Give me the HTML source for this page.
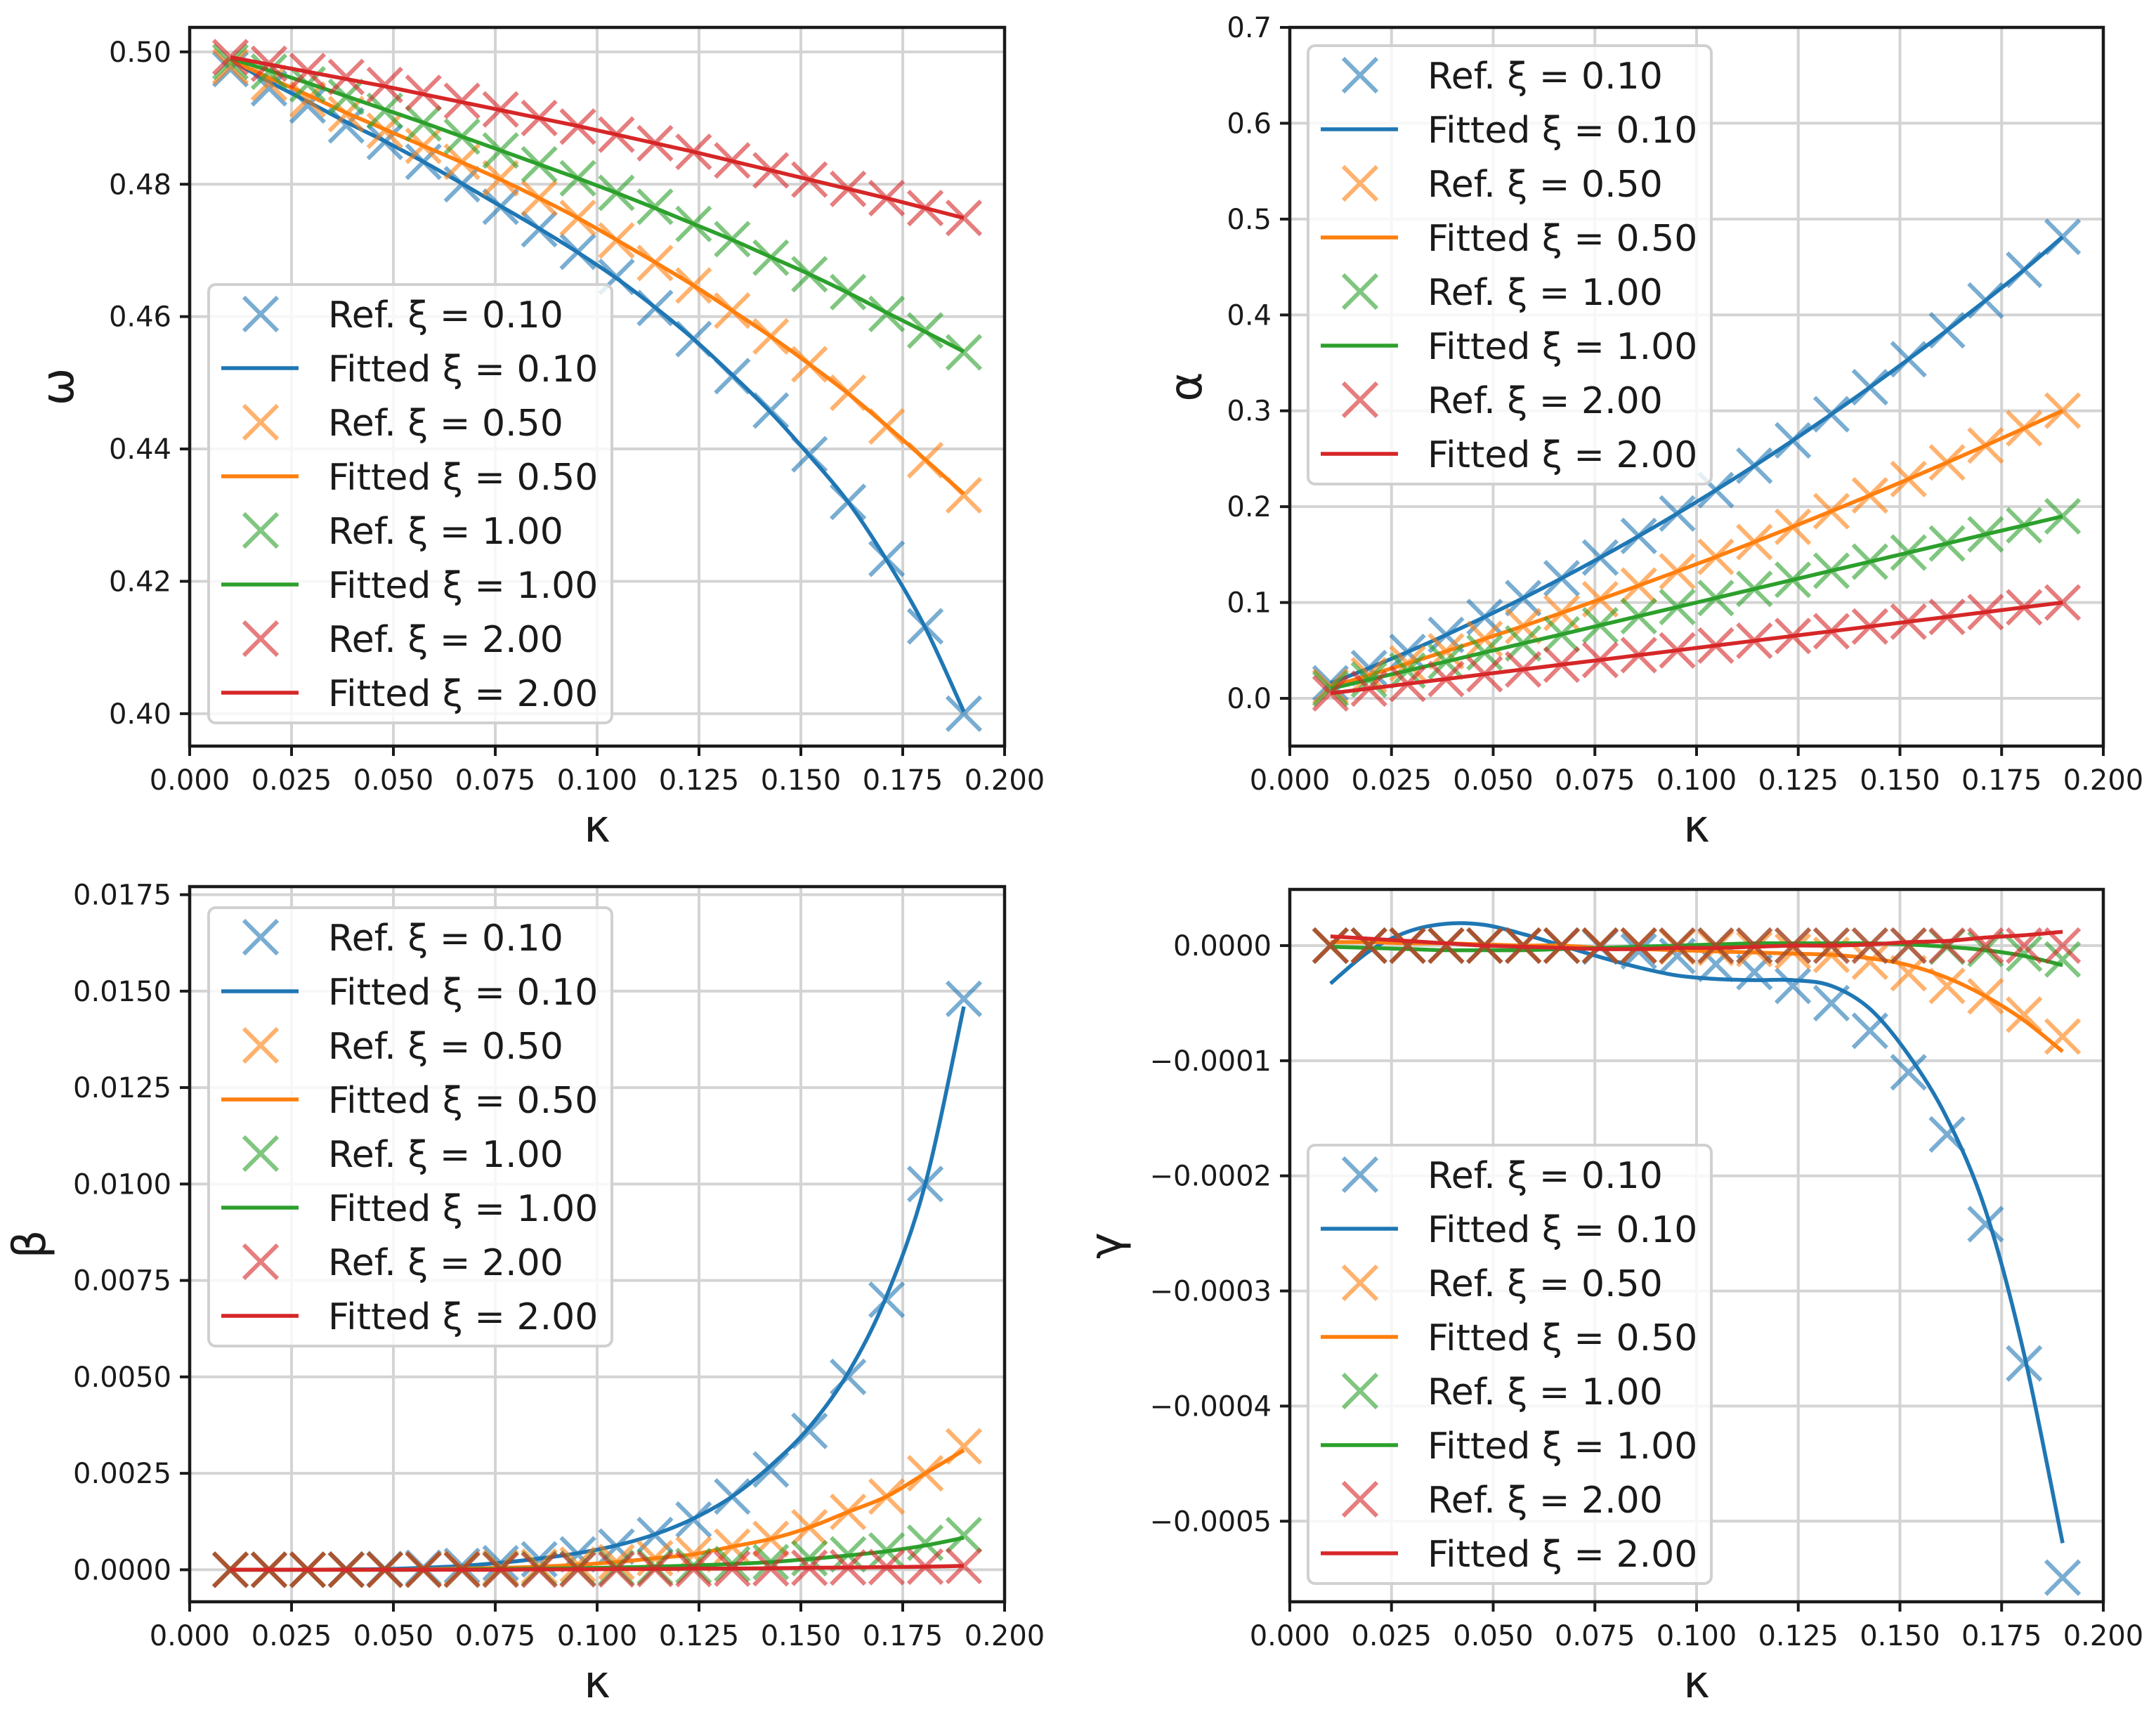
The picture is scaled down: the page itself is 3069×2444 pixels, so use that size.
<!DOCTYPE html>
<html><head><meta charset="utf-8"><style>
html,body{margin:0;padding:0;background:#fff;}
svg{display:block;font-family:"DejaVu Sans","Liberation Sans",sans-serif;}
</style></head><body>
<svg id="fig" xmlns="http://www.w3.org/2000/svg" width="3069" height="2444" viewBox="0 0 3069 2444"></svg>
<script>
const K = [0.01,0.01947,0.02895,0.03842,0.04789,0.05737,0.06684,0.07632,0.08579,0.09526,0.10474,0.11421,0.12368,0.13316,0.14263,0.15211,0.16158,0.17105,0.18053,0.19];
const seriesLabels = ["0.10","0.50","1.00","2.00"];
// omega
const omegaRef0 = [0.4974,0.4945,0.4919,0.4889,0.4864,0.4834,0.4800,0.4766,0.4732,0.4698,0.4660,0.4613,0.4566,0.4510,0.4458,0.4392,0.4320,0.4234,0.4132,0.4000];
const omegaRef1 = [0.4978,0.4953,0.4928,0.4906,0.4881,0.4858,0.4834,0.4809,0.4779,0.4749,0.4715,0.4681,0.4647,0.4609,0.4570,0.4528,0.4485,0.4434,0.4383,0.4330];
const omegaRef2 = [0.4985,0.4970,0.4951,0.4932,0.4911,0.4892,0.4872,0.4851,0.4830,0.4809,0.4787,0.4766,0.4740,0.4717,0.4689,0.4664,0.4637,0.4604,0.4579,0.4546];
const omegaRef3 = [0.4992,0.4982,0.4971,0.4962,0.4950,0.4938,0.4926,0.4913,0.4900,0.4887,0.4875,0.4862,0.4849,0.4836,0.4821,0.4807,0.4793,0.4779,0.4764,0.4749];
const omegaFit0 = [0.4988,0.4955,0.4925,0.4894,0.4865,0.4834,0.4801,0.4767,0.4733,0.4697,0.4658,0.4614,0.4566,0.4512,0.4455,0.4390,0.4320,0.4232,0.4130,0.4003];
const omegaFit1 = [0.4988,0.4961,0.4935,0.4908,0.4883,0.4858,0.4833,0.4807,0.4779,0.4749,0.4716,0.4682,0.4647,0.4609,0.4570,0.4528,0.4484,0.4435,0.4384,0.4332];
const omegaFit2 = [0.4990,0.4972,0.4953,0.4933,0.4913,0.4893,0.4872,0.4851,0.4830,0.4809,0.4787,0.4764,0.4740,0.4716,0.4690,0.4664,0.4636,0.4606,0.4577,0.4547];
const omegaFit3 = [0.4992,0.4981,0.4970,0.4959,0.4948,0.4936,0.4924,0.4912,0.4900,0.4888,0.4875,0.4862,0.4849,0.4835,0.4821,0.4807,0.4793,0.4779,0.4764,0.4749];
// alpha
const alphaRef0 = [0.0157,0.0316,0.0484,0.0662,0.0849,0.1046,0.1253,0.1469,0.1694,0.1929,0.2173,0.2427,0.2691,0.2964,0.3246,0.3538,0.3840,0.4151,0.4471,0.4815];
const alphaRef1 = [0.0122,0.0241,0.0364,0.0491,0.0621,0.0754,0.0892,0.1034,0.1177,0.1325,0.1476,0.1631,0.1790,0.1953,0.2118,0.2288,0.2461,0.2638,0.2818,0.3002];
const alphaRef2 = [0.0100,0.0195,0.0290,0.0384,0.0479,0.0574,0.0668,0.0763,0.0858,0.0953,0.1047,0.1142,0.1237,0.1332,0.1426,0.1521,0.1616,0.1711,0.1805,0.1900];
const alphaRef3 = [0.0053,0.0102,0.0152,0.0202,0.0252,0.0302,0.0352,0.0401,0.0451,0.0501,0.0551,0.0601,0.0651,0.0700,0.0750,0.0800,0.0850,0.0900,0.0950,0.1000];
const alphaFit0 = [0.0157,0.0316,0.0484,0.0662,0.0849,0.1046,0.1253,0.1469,0.1694,0.1929,0.2173,0.2427,0.2691,0.2964,0.3246,0.3538,0.3840,0.4151,0.4471,0.4815];
const alphaFit1 = [0.0122,0.0241,0.0364,0.0491,0.0621,0.0754,0.0892,0.1034,0.1177,0.1325,0.1476,0.1631,0.1790,0.1953,0.2118,0.2288,0.2461,0.2638,0.2818,0.3002];
const alphaFit2 = [0.0100,0.0195,0.0290,0.0384,0.0479,0.0574,0.0668,0.0763,0.0858,0.0953,0.1047,0.1142,0.1237,0.1332,0.1426,0.1521,0.1616,0.1711,0.1805,0.1900];
const alphaFit3 = [0.0053,0.0102,0.0152,0.0202,0.0252,0.0302,0.0352,0.0401,0.0451,0.0501,0.0551,0.0601,0.0651,0.0700,0.0750,0.0800,0.0850,0.0900,0.0950,0.1000];
// beta
const betaRef0 = [0,0,0,0.00001,0.00002,0.00005,0.0001,0.00017,0.00027,0.0004,0.0006,0.0009,0.0013,0.0019,0.0026,0.0036,0.0050,0.0070,0.0100,0.0148];
const betaRef1 = [0,0,0,0,0,0.00001,0.00003,0.00005,0.00008,0.00013,0.0002,0.0003,0.0004,0.0006,0.0008,0.0011,0.0015,0.0019,0.0025,0.0032];
const betaRef2 = [0,0,0,0,0,0,0,0.00001,0.00002,0.00003,0.00005,0.00007,0.0001,0.00015,0.0002,0.0003,0.0004,0.0005,0.0007,0.0009];
const betaRef3 = [0,0,0,0,0,0,0,0,0,0.00001,0.00001,0.00002,0.00002,0.00003,0.00004,0.00005,0.00006,0.00007,0.00008,0.0001];
const betaFit0 = [0,0,0,0.00001,0.00002,0.00005,0.0001,0.00018,0.00029,0.00043,0.00063,0.00092,0.00133,0.0019,0.0027,0.0037,0.0051,0.0071,0.0100,0.0146];
const betaFit1 = [0,0,0,0,0,0.00001,0.00003,0.00005,0.00008,0.00013,0.0002,0.0003,0.0004,0.0006,0.0008,0.0011,0.0015,0.0019,0.0025,0.0031];
const betaFit2 = [0,0,0,0,0,0,0.00001,0.00002,0.00003,0.00004,0.00006,0.00008,0.00011,0.00015,0.0002,0.00028,0.00037,0.00048,0.00063,0.00083];
const betaFit3 = [0,0,0,0,0,0,0,0,0.00001,0.00001,0.00002,0.00002,0.00003,0.00003,0.00004,0.00005,0.00006,0.00007,0.00008,0.0001];
// gamma (units of 1e-4)
const gammaRef0 = [0,0,0,0,0,0,0,-0.01,-0.05,-0.09,-0.16,-0.23,-0.35,-0.50,-0.74,-1.10,-1.64,-2.42,-3.63,-5.49];
const gammaRef1 = [0,0,0,0,0,0,0,0,0,-0.01,-0.02,-0.03,-0.05,-0.08,-0.14,-0.24,-0.35,-0.44,-0.60,-0.79];
const gammaRef2 = [0,0,0,0,0,0,0,0,0,0,0,0,0,0,0,0,-0.01,-0.03,-0.07,-0.12];
const gammaRef3 = [0,0,0,0,0,0,0,0,0,0,0,0,0,0,0,0,0,0,0,0];
const gammaFit0 = [-0.33,-0.05,0.12,0.19,0.18,0.10,0.00,-0.10,-0.19,-0.26,-0.29,-0.30,-0.30,-0.35,-0.55,-0.95,-1.50,-2.30,-3.55,-5.19];
const gammaFit1 = [0.03,0.03,0.02,0.02,0.01,0.00,0.00,-0.02,-0.03,-0.04,-0.05,-0.06,-0.07,-0.08,-0.11,-0.17,-0.28,-0.44,-0.65,-0.92];
const gammaFit2 = [-0.01,-0.02,-0.03,-0.04,-0.04,-0.04,-0.03,-0.02,-0.01,0.00,0.01,0.02,0.02,0.02,0.02,0.01,-0.01,-0.04,-0.09,-0.17];
const gammaFit3 = [0.08,0.06,0.04,0.02,0.00,-0.01,-0.02,-0.03,-0.03,-0.02,-0.02,-0.01,0.00,0.00,0.01,0.03,0.04,0.07,0.09,0.12];
const xTicks = [0,0.025,0.05,0.075,0.1,0.125,0.15,0.175,0.2];
const omegaTicks = [0.40,0.42,0.44,0.46,0.48,0.50];
const alphaTicks = [0,0.1,0.2,0.3,0.4,0.5,0.6,0.7];
const betaTicks = [0,0.0025,0.005,0.0075,0.01,0.0125,0.015,0.0175];
const gammaTicks = [0,-1,-2,-3,-4,-5];

const colors = ["#1f77b4","#ff7f0e","#2ca02c","#d62728"];
const NS = "http://www.w3.org/2000/svg";
const svg = document.getElementById("fig");
function mk(tag, attrs, parent){const e=document.createElementNS(NS,tag);for(const k in attrs)e.setAttribute(k,attrs[k]);(parent||svg).appendChild(e);return e;}
function smooth(pts){let d="M"+pts[0][0]+","+pts[0][1];for(let i=0;i<pts.length-1;i++){const p0=pts[Math.max(0,i-1)],p1=pts[i],p2=pts[i+1],p3=pts[Math.min(pts.length-1,i+2)];const c1x=p1[0]+(p2[0]-p0[0])/6,c1y=p1[1]+(p2[1]-p0[1])/6,c2x=p2[0]-(p3[0]-p1[0])/6,c2y=p2[1]-(p3[1]-p1[1])/6;d+=" C"+c1x+","+c1y+" "+c2x+","+c2y+" "+p2[0]+","+p2[1];}return d;}

function panel(cfg){
  const g=mk("g",{});
  
  
  const L=cfg.left,R=cfg.right,T=cfg.top,B=cfg.bottom;
  const xs=v=>L+(v-0)/(0.2-0)*(R-L);
  const ys=v=>B-(v-cfg.ymin)/(cfg.ymax-cfg.ymin)*(B-T);
  const cid="clip-"+cfg.name;
  const cp=mk("clipPath",{id:cid},g);mk("rect",{x:L,y:T,width:R-L,height:B-T},cp);
  xTicks.forEach(t=>{const l=mk("line",{x1:xs(t),x2:xs(t),y1:T,y2:B,stroke:"#d4d4d4","stroke-width":4},g);});
  cfg.yticks.forEach(t=>{const l=mk("line",{x1:L,x2:R,y1:ys(t),y2:ys(t),stroke:"#d4d4d4","stroke-width":4},g);});
  const dg=mk("g",{"clip-path":"url(#"+cid+")"},g);
  cfg.refs.forEach((ref,si)=>{
    ref.forEach((v,i)=>{const cx=xs(K[i]),cy=ys(v),h=24;
      const m=mk("path",{d:`M${cx-h},${cy-h}L${cx+h},${cy+h}M${cx-h},${cy+h}L${cx+h},${cy-h}`,stroke:colors[si],"stroke-opacity":0.6,"stroke-width":6,fill:"none"},dg);
      
      });
    const fit=cfg.fits[si];
    const p=mk("path",{d:smooth(fit.map((v,i)=>[xs(K[i]),ys(v)])),stroke:colors[si],"stroke-width":5.5,fill:"none","stroke-linejoin":"round"},dg);
    
    
  });
  const sp=mk("rect",{x:L,y:T,width:R-L,height:B-T,fill:"none",stroke:"#1a1a1a","stroke-width":4.5},g);
  
  xTicks.forEach(t=>{mk("line",{x1:xs(t),x2:xs(t),y1:B,y2:B+14,stroke:"#1a1a1a","stroke-width":4},g);
    const tx=mk("text",{x:xs(t),y:B+62,"text-anchor":"middle","font-size":40,fill:"#1a1a1a"},g);tx.textContent=t.toFixed(3);
    });
  cfg.yticks.forEach(t=>{mk("line",{x1:L-14,x2:L,y1:ys(t),y2:ys(t),stroke:"#1a1a1a","stroke-width":4},g);
    const tx=mk("text",{x:L-26,y:ys(t)+14,"text-anchor":"end","font-size":40,fill:"#1a1a1a"},g);tx.textContent=cfg.fmt(t);
    });
  const xl=mk("text",{x:(L+R)/2,y:B+136,"text-anchor":"middle","font-size":64,fill:"#1a1a1a"},g);xl.textContent="κ";
  
  const yx=cfg.ylabelX,yy=(T+B)/2;
  const yl=mk("text",{x:yx,y:yy,"text-anchor":"middle","font-size":64,fill:"#1a1a1a",transform:`rotate(-90 ${yx} ${yy})`},g);yl.textContent=cfg.ylabel;
  
  const lg=mk("g",{},g);
  
  const bx=cfg.legX,by=cfg.legY;
  mk("rect",{x:bx,y:by,width:574,height:624,rx:10,fill:"#fff","fill-opacity":0.8,stroke:"#d0d0d0","stroke-width":4},lg);
  for(let si=0;si<4;si++){
    for(let j=0;j<2;j++){
      const cy=by+42+(si*2+j)*77;
      const e=mk("g",{},lg);
      
      
      if(j===0){const cx=bx+74,h=24;mk("path",{d:`M${cx-h},${cy-h}L${cx+h},${cy+h}M${cx-h},${cy+h}L${cx+h},${cy-h}`,stroke:colors[si],"stroke-opacity":0.6,"stroke-width":6,fill:"none"},e);}
      else mk("line",{x1:bx+18,x2:bx+128,y1:cy,y2:cy,stroke:colors[si],"stroke-width":5.5},e);
      const t=mk("text",{x:bx+170,y:cy+19,"font-size":52,fill:"#1a1a1a"},e);
      t.textContent=(j===0?"Ref. ξ = ":"Fitted ξ = ")+seriesLabels[si];
    }
  }
}
const minus=s=>s.replace("-","\u2212");
panel({name:"omega-panel",left:270,right:1430,top:39,bottom:1062,ymin:0.3951,ymax:0.5037,yticks:omegaTicks,fmt:t=>t.toFixed(2),ylabel:"ω",ylabelX:104,
  refs:[omegaRef0,omegaRef1,omegaRef2,omegaRef3],fits:[omegaFit0,omegaFit1,omegaFit2,omegaFit3],legX:297,legY:405});
panel({name:"alpha-panel",left:1836,right:2994,top:39,bottom:1062,ymin:-0.0498,ymax:0.7,yticks:alphaTicks,fmt:t=>t.toFixed(1),ylabel:"α",ylabelX:1710,
  refs:[alphaRef0,alphaRef1,alphaRef2,alphaRef3],fits:[alphaFit0,alphaFit1,alphaFit2,alphaFit3],legX:1862,legY:65});
panel({name:"beta-panel",left:270,right:1430,top:1262,bottom:2280,ymin:-0.00083,ymax:0.01771,yticks:betaTicks,fmt:t=>t.toFixed(4),ylabel:"β",ylabelX:64,
  refs:[betaRef0,betaRef1,betaRef2,betaRef3],fits:[betaFit0,betaFit1,betaFit2,betaFit3],legX:297,legY:1292});
panel({name:"gamma-panel",left:1836,right:2994,top:1266,bottom:2280,ymin:-5.70,ymax:0.488,yticks:gammaTicks,fmt:t=>minus((t*1e-4).toFixed(4)),ylabel:"γ",ylabelX:1596,
  refs:[gammaRef0,gammaRef1,gammaRef2,gammaRef3],fits:[gammaFit0,gammaFit1,gammaFit2,gammaFit3],legX:1862,legY:1630});
</script>
</body></html>
